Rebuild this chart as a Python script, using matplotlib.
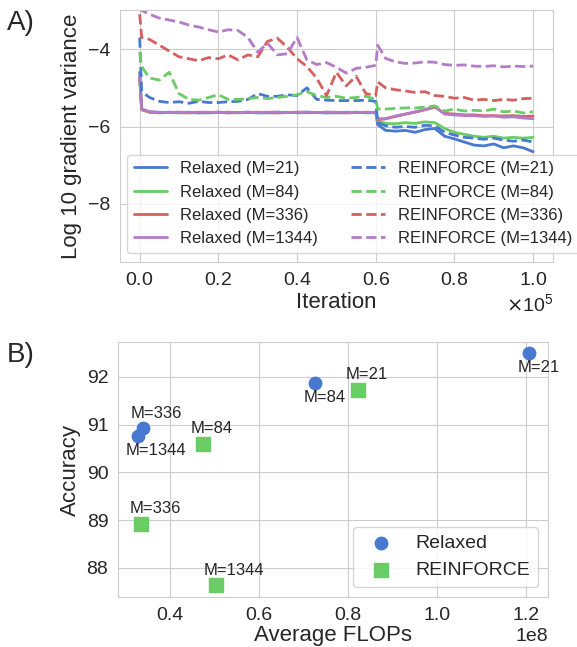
import numpy as np
import matplotlib
matplotlib.use("Agg")
import matplotlib.pyplot as plt
import seaborn as sns

# ================================
# Data
# ================================
# iteration grid (in units of 1e5 iterations)
iters = np.concatenate([[0.0, 0.005],
                        np.round(np.arange(0.025, 0.601, 0.025), 3),
                        [0.605],
                        np.round(np.arange(0.625, 1.001, 0.025), 3)]) * 1e5

relaxed_21 = [-4.60, -5.55, -5.62, -5.64, -5.63, -5.64, -5.63, -5.65, -5.64, -5.63, -5.64, -5.64, -5.63,
              -5.65, -5.64, -5.63, -5.64, -5.64, -5.63, -5.64, -5.65, -5.64, -5.63, -5.64, -5.64, -5.63,
              -5.95, -6.10, -6.12, -6.10, -6.15, -6.08, -6.05, -6.25, -6.32, -6.40, -6.48, -6.50, -6.45,
              -6.55, -6.50, -6.55, -6.65]
relaxed_84 = [-4.70, -5.57, -5.63, -5.65, -5.64, -5.65, -5.64, -5.64, -5.65, -5.64, -5.63, -5.65, -5.64,
              -5.64, -5.65, -5.64, -5.63, -5.65, -5.64, -5.64, -5.64, -5.65, -5.64, -5.63, -5.65, -5.64,
              -5.85, -5.92, -5.93, -5.90, -5.92, -5.88, -5.90, -6.05, -6.15, -6.20, -6.25, -6.28, -6.25,
              -6.30, -6.28, -6.30, -6.28]
relaxed_336 = [-4.75, -5.56, -5.63, -5.64, -5.64, -5.63, -5.65, -5.64, -5.64, -5.63, -5.65, -5.64, -5.64,
               -5.63, -5.64, -5.65, -5.64, -5.63, -5.64, -5.64, -5.63, -5.64, -5.65, -5.64, -5.63, -5.64,
               -5.82, -5.80, -5.74, -5.68, -5.63, -5.57, -5.50, -5.66, -5.68, -5.70, -5.70, -5.72, -5.72,
               -5.73, -5.72, -5.74, -5.73]
relaxed_1344 = [-4.70, -5.55, -5.62, -5.63, -5.64, -5.63, -5.64, -5.63, -5.63, -5.64, -5.63, -5.64, -5.63,
                -5.64, -5.63, -5.63, -5.64, -5.63, -5.63, -5.64, -5.63, -5.63, -5.64, -5.63, -5.64, -5.63,
                -5.80, -5.80, -5.73, -5.68, -5.62, -5.56, -5.48, -5.68, -5.70, -5.72, -5.72, -5.74, -5.73,
                -5.76, -5.75, -5.78, -5.80]

reinforce_21 = [-3.70, -5.10, -5.25, -5.35, -5.38, -5.36, -5.40, -5.35, -5.38, -5.38, -5.36, -5.35, -5.30,
                -5.15, -5.22, -5.22, -5.18, -5.20, -5.00, -5.30, -5.32, -5.33, -5.33, -5.33, -5.32, -5.35,
                -5.90, -5.98, -6.02, -6.00, -6.02, -5.97, -5.98, -6.15, -6.22, -6.28, -6.30, -6.33, -6.30,
                -6.35, -6.38, -6.35, -6.40]
reinforce_84 = [-4.08, -4.45, -4.75, -4.80, -4.60, -5.15, -5.30, -5.32, -5.25, -5.18, -5.30, -5.30, -5.28,
                -5.25, -5.28, -5.25, -5.22, -5.18, -5.10, -5.20, -5.25, -5.22, -5.27, -5.25, -5.22, -5.30,
                -5.55, -5.55, -5.53, -5.52, -5.52, -5.50, -5.47, -5.60, -5.55, -5.60, -5.58, -5.60, -5.55,
                -5.62, -5.60, -5.65, -5.62]
reinforce_336 = [-3.10, -3.70, -3.75, -3.90, -4.05, -4.20, -4.25, -4.30, -4.22, -4.25, -4.15, -4.28, -4.15,
                 -4.20, -3.80, -3.72, -3.95, -4.25, -4.45, -4.75, -5.20, -4.60, -4.95, -4.70, -5.15, -5.20,
                 -4.85, -5.00, -5.05, -5.08, -5.12, -5.10, -5.20, -5.22, -5.27, -5.25, -5.32, -5.30, -5.33,
                 -5.30, -5.32, -5.28, -5.27]
reinforce_1344 = [-2.90, -3.00, -3.10, -3.20, -3.25, -3.30, -3.38, -3.43, -3.50, -3.56, -3.50, -3.52, -3.70,
                  -4.08, -3.85, -4.15, -4.12, -3.70, -4.28, -4.40, -4.35, -4.47, -4.62, -4.50, -4.47, -4.42,
                  -3.90, -4.24, -4.33, -4.37, -4.36, -4.33, -4.34, -4.40, -4.42, -4.41, -4.44, -4.45, -4.43,
                  -4.46, -4.44, -4.45, -4.44]

m_values = [21, 84, 336, 1344]

# panel B: average FLOPs vs accuracy
relaxed_flops = [1.207e8, 0.726e8, 0.339e8, 0.328e8]
relaxed_acc = [92.50, 91.87, 90.93, 90.76]
reinforce_flops = [0.822e8, 0.474e8, 0.335e8, 0.503e8]
reinforce_acc = [91.73, 90.60, 88.92, 87.64]

colors = ["#4878CF", "#6ACC65", "#D65F5F", "#B47CC7"]

# ================================
# Style
# ================================
sns.set_style("whitegrid")
plt.rcParams["font.family"] = ["Liberation Sans", "DejaVu Sans"]
text_col = "#262626"
plt.rcParams["text.color"] = text_col
plt.rcParams["axes.labelcolor"] = text_col
plt.rcParams["xtick.color"] = text_col
plt.rcParams["ytick.color"] = text_col

fig = plt.figure(figsize=(5.77, 6.47), dpi=100)

# ================================
# A) gradient variance
# ================================
ax1 = fig.add_axes([0.208, 0.595, 0.750, 0.389])
relaxed = [relaxed_21, relaxed_84, relaxed_336, relaxed_1344]
reinforce = [reinforce_21, reinforce_84, reinforce_336, reinforce_1344]
for m, ys, c in zip(m_values, relaxed, colors):
    ax1.plot(iters, ys, color=c, lw=2, label=f"Relaxed (M={m})")
for m, ys, c in zip(m_values, reinforce, colors):
    ax1.plot(iters, ys, color=c, lw=2, ls="--", label=f"REINFORCE (M={m})")

ax1.set_ylim(-9.5, -3)
ax1.set_yticks([-8, -6, -4])
ax1.set_xticks(np.arange(0, 1.01, 0.2) * 1e5)
ax1.ticklabel_format(axis="x", style="sci", scilimits=(0, 0), useMathText=True)
ax1.xaxis.get_offset_text().set_fontsize(14)
ax1.tick_params(labelsize=14)
ax1.set_xlabel("Iteration", fontsize=16, labelpad=2)
ax1.set_ylabel("Log 10 gradient variance", fontsize=16)
ax1.legend(ncol=2, fontsize=12, loc="lower left", bbox_to_anchor=(0.016, 0.036),
           borderaxespad=0, frameon=True)
fig.text(0.012, 0.965, "A)", fontsize=20, va="center")

# ================================
# B) FLOPs vs accuracy
# ================================
ax2 = fig.add_axes([0.2045, 0.0773, 0.745, 0.394])
ax2.scatter(relaxed_flops, relaxed_acc, s=80, color=colors[0], marker="o", label="Relaxed")
ax2.scatter(reinforce_flops, reinforce_acc, s=90, color=colors[1], marker="s", label="REINFORCE")

for m, fx, acc in zip(m_values, relaxed_flops, relaxed_acc):
    dy = 14 if m == 336 else -14
    ax2.annotate(f"M={m}", (fx, acc), xytext=(-12, dy), textcoords="offset pixels",
                 ha="left", va="center", fontsize=12)
for m, fx, acc in zip(m_values, reinforce_flops, reinforce_acc):
    ax2.annotate(f"M={m}", (fx, acc), xytext=(-12, 15), textcoords="offset pixels",
                 ha="left", va="center", fontsize=12)

ax2.set_xlim(0.283e8, 1.249e8)
ax2.set_ylim(87.39, 92.73)
ax2.set_xticks(np.arange(0.4, 1.21, 0.2) * 1e8)
ax2.set_yticks([88, 89, 90, 91, 92])
ax2.xaxis.get_offset_text().set_fontsize(14)
ax2.tick_params(labelsize=14)
ax2.set_xlabel("Average FLOPs", fontsize=16, labelpad=1)
ax2.set_ylabel("Accuracy", fontsize=16)
ax2.legend(fontsize=14, loc="lower right", frameon=True)
fig.text(0.012, 0.451, "B)", fontsize=20, va="center")

fig.savefig("out.png", dpi=100)
